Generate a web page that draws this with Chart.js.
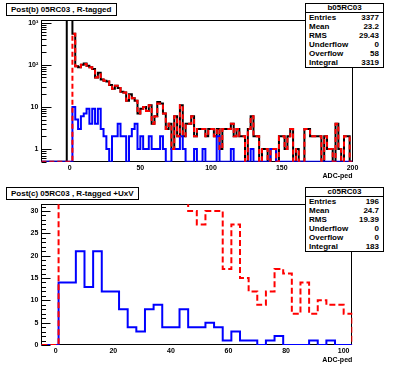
<!DOCTYPE html>
<html lang="en">
<head>
<meta charset="UTF-8">
<title>Post(b) / Post(c) 05RC03</title>
<script src="https://cdn.jsdelivr.net/npm/chart.js"></script>
<style>
  body { margin: 0; background: #fff; }
  #wrap { position: relative; width: 396px; height: 368px; overflow: hidden; background: #fff; }
  canvas { position: absolute; left: 0; }
  .box { position: absolute; background: #fff; border: 1px solid #000; color: #000;
         font: bold 8px 'Liberation Sans', Arial, sans-serif; box-sizing: border-box; }
  .title { padding: 1px 5px 1px 4px; line-height: 9px; white-space: nowrap; }
  .stats .head { text-align: center; line-height: 7px; height: 8px; border-bottom: 1px solid #000; }
  .stats .row { display: flex; justify-content: space-between; line-height: 9px; padding: 0 4px 0 3px; }
</style>
</head>
<body>
<div id="wrap">
  <canvas id="topChart" width="396" height="180" style="top:0"></canvas>
  <canvas id="botChart" width="396" height="184" style="top:180px"></canvas>
  <div class="box title" style="left:6px; top:3px;">Post(b) 05RC03 , R-tagged</div>
  <div class="box title" style="left:6px; top:187px;">Post(c) 05RC03 , R-tagged +UxV</div>
  <div class="box stats" id="topStats" style="left:305px; top:3px; width:79px; height:65px;"></div>
  <div class="box stats" id="botStats" style="left:305px; top:187px; width:79px; height:65px;"></div>
</div>

<script>
// top panel: 2 ADC bins from -20 to 200
const topBinStart = -20, topBinWidth = 2;
const topAllCounts = [
  0, 0, 0, 0, 0, 0, 0, 0, 0, 1500, 1900, 550, 92, 88, 100, 108, 95, 88, 80, 50,
  65, 45, 42, 40, 33, 27, 32, 28, 23, 22,
  14, 20, 16, 14, 7, 9, 10, 8, 11, 4,
  6, 13, 12, 7, 3, 4, 1, 6, 2, 11,
  2, 4, 4, 6, 2, 3, 3, 3, 2, 3,
  3, 2, 3, 1, 3, 3, 3, 4, 2, 3,
  2, 2, 0, 3, 6, 2, 2, 0, 1, 1,
  0, 1, 1, 0, 2, 2, 1, 2, 3, 0,
  1, 0, 0, 3, 3, 2, 2, 2, 2, 0,
  2, 1, 1, 0, 4, 1, 0, 2, 2, 0
];
const topTaggedCounts = [
  0, 0, 0, 0, 0, 0, 0, 0, 0, 0, 0, 550, 92, 88, 100, 105, 95, 88, 80, 50,
  60, 45, 42, 40, 33, 27, 32, 28, 23, 22,
  14, 19, 16, 14, 7, 9, 10, 8, 11, 4,
  6, 12, 12, 7, 3, 4, 1, 6, 2, 11,
  2, 4, 4, 6, 2, 3, 3, 3, 2, 3,
  3, 2, 3, 1, 3, 3, 3, 4, 2, 3,
  2, 2, 0, 3, 6, 2, 2, 0, 1, 1,
  0, 1, 1, 0, 2, 2, 1, 2, 3, 0,
  1, 0, 0, 3, 3, 2, 2, 2, 2, 0,
  2, 1, 1, 0, 4, 1, 0, 2, 2, 0
];
const topUxVCounts = [
  0, 0, 0, 0, 0, 0, 0, 0, 0, 0, 0, 10, 5, 3, 6, 7, 9, 4, 9, 4,
  9, 3, 2, 1, 0, 2, 2, 4, 2, 2,
  0, 2, 3, 4, 1, 2, 1, 1, 2, 1,
  1, 1, 2, 1, 0, 0, 1, 1, 1, 2,
  1, 0, 0, 0, 1, 0, 0, 1, 0, 0,
  0, 0, 2, 0, 0, 0, 0, 1, 0, 0,
  0, 0, 0, 0, 1, 0, 0, 0, 0, 0,
  0, 1, 1, 0, 0, 0, 0, 0, 0, 0,
  0, 0, 0, 0, 0, 0, 0, 0, 0, 0,
  0, 0, 0, 0, 0, 0, 0, 0, 0, 0
];
const topXTicks = [0, 50, 100, 150, 200];
const topYTicks = [1, 10, 100, 1000];
const topYTickLabels = ['1', '10', '10\u00b2', '10\u00b3'];

// bottom panel: 3 ADC bins from -5 to 103
const botBinStart = -5, botBinWidth = 3;
const botUxVCounts = [
  0, 0, 14, 14, 21, 13, 21, 12, 12, 8, 4, 3, 8, 9, 4, 4, 8, 4,
  4, 5, 4, 1, 3, 1, 1, 0, 1, 2, 0, 0, 0, 1, 0, 1, 0, 0
];
const botTaggedCounts = [
  0, 0, 175, 62, 58, 60, 55, 50, 47, 44, 41, 39, 37, 36, 35, 34, 33, 30,
  27, 30, 30, 17, 27, 15, 12, 9, 12, 17, 16, 7, 14, 7, 10, 9, 9, 7
];
const botXTicks = [0, 20, 40, 60, 80, 100];
const botYTicks = [0, 5, 10, 15, 20, 25, 30];

const statNames = ['Entries', 'Mean', 'RMS', 'Underflow', 'Overflow', 'Integral'];
const topStatValues = ['3377', '23.2', '29.43', '0', '58', '3319'];
const botStatValues = ['196', '24.7', '19.39', '0', '0', '183'];

function fillStats(id, name, values) {
  const el = document.getElementById(id);
  let html = '<div class="head">' + name + '</div>';
  statNames.forEach((n, i) => {
    html += '<div class="row"><span>' + n + '</span><span>' + values[i] + '</span></div>';
  });
  el.innerHTML = html;
}
fillStats('topStats', 'b05RC03', topStatValues);
fillStats('botStats', 'c05RC03', botStatValues);

// step outline of a histogram; empty bins sit on the axis floor
function histPoints(start, width, counts, floor) {
  const pts = [{ x: start, y: floor }];
  counts.forEach((c, i) => pts.push({ x: start + i * width, y: Math.max(c, floor) }));
  pts.push({ x: start + counts.length * width, y: floor });
  return pts;
}

const tickFont = { family: "'Liberation Sans', Arial, sans-serif", size: 7, weight: 'bold' };

// ROOT style frame with inward ticks on the y axis
const framePlugin = {
  id: 'frame',
  beforeDatasetsDraw(chart, args, opts) {
    const { ctx, chartArea: a } = chart;
    const y = chart.scales.y;
    const L = Math.round(a.left) + 0.5, R = Math.round(a.right) - 0.5;
    const T = Math.round(a.top) + 0.5, B = Math.round(a.bottom) - 0.5;
    ctx.save();
    ctx.strokeStyle = '#000';
    ctx.lineWidth = 1;
    ctx.strokeRect(L, T, R - L, B - T);
    ctx.beginPath();
    opts.minor.forEach(v => {
      const p = Math.round(y.getPixelForValue(v)) + 0.5;
      ctx.moveTo(L, p); ctx.lineTo(L + opts.minorLen, p);
    });
    opts.major.forEach(v => {
      const p = Math.round(y.getPixelForValue(v)) + 0.5;
      ctx.moveTo(L, p); ctx.lineTo(L + opts.majorLen, p);
    });
    ctx.stroke();
    ctx.restore();
  }
};

function line(data, color, dash) {
  return {
    data: data, borderColor: color, borderWidth: 2, borderDash: dash || [],
    stepped: true, pointRadius: 0, fill: false, tension: 0
  };
}

function xScale(min, max, ticks, height) {
  return {
    type: 'linear', min: min, max: max,
    afterBuildTicks: s => { s.ticks = ticks.map(v => ({ value: v })); },
    afterFit: s => { s.height = height; },
    grid: { display: false, drawTicks: false },
    border: { display: false },
    ticks: { font: tickFont, color: '#000', padding: 2, maxRotation: 0, autoSkip: false },
    title: { display: true, text: 'ADC-ped', align: 'end', color: '#000', font: tickFont, padding: 0 }
  };
}

// log axis minor ticks
const logMinor = [];
[0.1, 1, 10, 100].forEach(d => {
  for (let m = 2; m <= 9; m++) if (m * d >= 0.5 && m * d <= 1160) logMinor.push(m * d);
});
const linMinor = [];
for (let v = 0; v <= 31; v++) linMinor.push(v);

new Chart(document.getElementById('topChart'), {
  type: 'line',
  data: {
    datasets: [
      Object.assign(line(histPoints(topBinStart, topBinWidth, topAllCounts, 0.5), '#000'), { order: 3 }),
      Object.assign(line(histPoints(topBinStart, topBinWidth, topUxVCounts, 0.5), '#0000ff'), { order: 2 }),
      Object.assign(line(histPoints(topBinStart, topBinWidth, topTaggedCounts, 0.5), '#ff0000', [5, 3]), { order: 1 })
    ]
  },
  options: {
    responsive: false, animation: false, events: [],
    layout: { padding: { top: 20, right: 43.5, left: 0, bottom: 0 } },
    plugins: {
      legend: { display: false }, tooltip: { enabled: false },
      frame: { major: topYTicks, minor: logMinor, majorLen: 10, minorLen: 5 }
    },
    scales: {
      x: xScale(-20, 200, topXTicks, 18.3),
      y: {
        type: 'logarithmic', min: 0.5, max: 1160,
        afterBuildTicks: s => { s.ticks = topYTicks.map(v => ({ value: v })); },
        afterFit: s => { s.width = 41.3; },
        grid: { display: false, drawTicks: false },
        border: { display: false },
        ticks: { font: tickFont, color: '#000', padding: 3,
                 callback: (v, i) => topYTickLabels[i] }
      }
    }
  },
  plugins: [framePlugin]
});

new Chart(document.getElementById('botChart'), {
  type: 'line',
  data: {
    datasets: [
      Object.assign(line(histPoints(botBinStart, botBinWidth, botUxVCounts, 0), '#0000ff'), { order: 2 }),
      Object.assign(line(histPoints(botBinStart, botBinWidth, botTaggedCounts, 0), '#ff0000', [6, 3]), { order: 1 })
    ]
  },
  options: {
    responsive: false, animation: false, events: [],
    layout: { padding: { top: 24.3, right: 43.7, left: 0, bottom: 0 } },
    plugins: {
      legend: { display: false }, tooltip: { enabled: false },
      frame: { major: botYTicks, minor: linMinor, majorLen: 9, minorLen: 4.5 }
    },
    scales: {
      x: xScale(-5, 103, botXTicks, 19),
      y: {
        type: 'linear', min: 0, max: 31.5,
        afterBuildTicks: s => { s.ticks = botYTicks.map(v => ({ value: v })); },
        afterFit: s => { s.width = 41.3; },
        grid: { display: false, drawTicks: false },
        border: { display: false },
        ticks: { font: tickFont, color: '#000', padding: 3 }
      }
    }
  },
  plugins: [framePlugin]
});
</script>
</body>
</html>
